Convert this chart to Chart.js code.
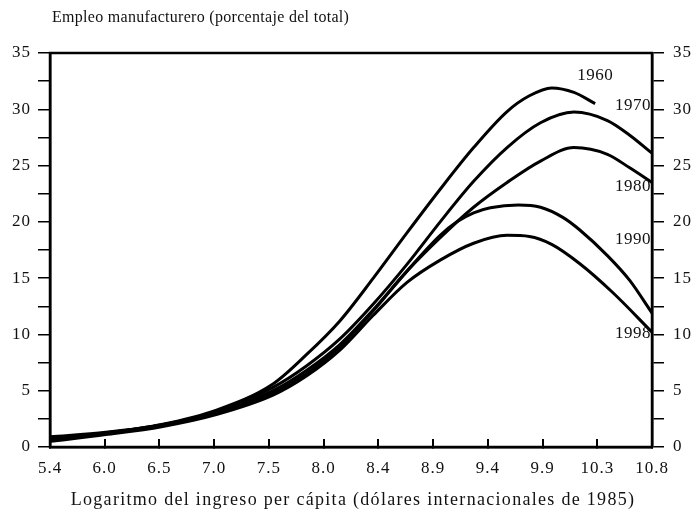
<!DOCTYPE html>
<html>
<head>
<meta charset="utf-8">
<script src="https://cdn.jsdelivr.net/npm/chart.js@4"></script>
<style>
html,body{margin:0;padding:0;background:#fff;}
#wrap{position:relative;width:697px;height:526px;}
</style>
</head>
<body>
<div id="wrap"><canvas id="c" width="697" height="526"></canvas></div>
<script>
// ---- data ----
const xTickLabels = ['5.4','6.0','6.5','7.0','7.5','8.0','8.4','8.9','9.4','9.9','10.3','10.8'];
const yMin = 0, yMax = 35, yStep = 2.5;

const seriesNames = ['1960','1970','1980','1990','1998'];

const x1960 = [5.4,5.9,6.4,6.9,7.4,7.7,8.0,8.3,8.6,8.9,9.2,9.5,9.7,9.9,10.1,10.29];
const y1960 = [0.7,1.25,2.0,3.3,5.6,8.2,11.2,15.0,19.0,22.9,26.6,29.8,31.2,31.9,31.5,30.5];

const x1970 = [5.4,5.9,6.4,6.9,7.4,7.7,8.0,8.3,8.6,8.9,9.2,9.5,9.8,10.1,10.4,10.6,10.8];
const y1970 = [0.8,1.25,1.95,3.2,5.3,7.2,9.6,12.7,16.2,20.0,23.6,26.6,28.8,29.75,29.0,27.7,26.1];

const x1980 = [5.4,5.9,6.4,6.9,7.4,7.7,8.0,8.3,8.6,8.9,9.2,9.5,9.8,10.1,10.4,10.6,10.8];
const y1980 = [0.9,1.3,1.95,3.1,5.0,6.8,9.1,12.2,15.6,18.6,21.3,23.5,25.4,26.6,26.0,24.8,23.5];

const x1990 = [5.4,5.9,6.4,6.9,7.4,7.7,8.0,8.3,8.6,8.9,9.05,9.2,9.35,9.6,9.8,10.0,10.15,10.4,10.6,10.8];
const y1990 = [0.6,1.2,1.9,3.0,4.8,6.5,8.9,12.1,15.6,18.8,20.0,20.8,21.25,21.5,21.3,20.4,19.3,17.0,14.8,11.9];

const x1998 = [5.4,5.9,6.4,6.9,7.4,7.7,8.0,8.3,8.6,8.9,9.2,9.5,9.7,9.9,10.15,10.45,10.8];
const y1998 = [0.5,1.1,1.8,2.9,4.6,6.3,8.6,11.7,14.6,16.6,18.1,18.8,18.7,18.0,16.3,13.7,10.2];

const yTitle = 'Empleo manufacturero (porcentaje del total)';
const xTitle = 'Logaritmo del ingreso per cápita (dólares internacionales de 1985)';

// ---- build ----
const xs = [x1960,x1970,x1980,x1990,x1998];
const ys = [y1960,y1970,y1980,y1990,y1998];
const xMin = 5.4, xMax = 10.8;
const xStepVal = (xMax - xMin) / (xTickLabels.length - 1);

const datasets = seriesNames.map((n, i) => ({
  label: n,
  data: xs[i].map((x, k) => ({x: x, y: ys[i][k]})),
  borderColor: '#000',
  borderWidth: 3,
  pointRadius: 0,
  fill: false,
  cubicInterpolationMode: 'monotone',
  xAxisID: 'x',
  yAxisID: 'y'
}));

// label anchors (data units)
const labelPlacement = {
  '1960': {x: 10.29, y: 33.0, align: 'center'},
  '1970': {x: 10.79, y: 30.3, align: 'right'},
  '1980': {x: 10.79, y: 23.1, align: 'right'},
  '1990': {x: 10.79, y: 18.4, align: 'right'},
  '1998': {x: 10.79, y: 10.1, align: 'right'}
};

const SERIF = '"Liberation Serif", "DejaVu Serif", serif';

const textPlugin = {
  id: 'textPlugin',
  beforeDraw(chart) {
    chart.ctx.letterSpacing = '1px';
  },
  afterDraw(chart) {
    const ctx = chart.ctx, ca = chart.chartArea;
    const xs_ = chart.scales.x, ys_ = chart.scales.y;
    ctx.save();
    // frame
    ctx.strokeStyle = '#000';
    ctx.lineWidth = 2.5;
    ctx.strokeRect(ca.left, ca.top, ca.right - ca.left, ca.bottom - ca.top);
    // series labels
    ctx.fillStyle = '#111';
    ctx.letterSpacing = '0.5px';
    ctx.font = '17px ' + SERIF;
    ctx.textBaseline = 'middle';
    seriesNames.forEach(n => {
      const p = labelPlacement[n];
      ctx.textAlign = p.align;
      ctx.fillText(n, xs_.getPixelForValue(p.x), ys_.getPixelForValue(p.y));
    });
    // axis titles
    ctx.letterSpacing = '0.3px';
    ctx.font = '16px ' + SERIF;
    ctx.textAlign = 'left';
    ctx.fillText(yTitle, ca.left + 2, 18);
    ctx.letterSpacing = '1.3px';
    ctx.font = '18px ' + SERIF;
    ctx.textAlign = 'center';
    ctx.fillText(xTitle, (ca.left + ca.right) / 2 + 2, 500);
    ctx.restore();
  }
};

const yTickCb = v => (Math.abs(v % 5) < 1e-6 ? String(v) : '');
const tickFont = {family: SERIF, size: 17};

new Chart(document.getElementById('c'), {
  type: 'line',
  data: {datasets},
  plugins: [textPlugin],
  options: {
    responsive: false,
    animation: false,
    events: [],
    layout: {padding: {top: 53, left: 0, right: 0, bottom: 0}},
    plugins: {legend: {display: false}, tooltip: {enabled: false}, title: {display: false}},
    scales: {
      x: {
        type: 'linear',
        position: 'bottom',
        min: xMin, max: xMax,
        afterBuildTicks(scale) {
          scale.ticks = xTickLabels.map((_, i) => ({value: xMin + i * xStepVal}));
        },
        afterFit(scale) { scale.height = 79; },
        ticks: {
          callback: (v, i) => xTickLabels[i],
          color: '#111',
          font: tickFont,
          padding: 19,
          maxRotation: 0,
          autoSkip: false
        },
        grid: {drawOnChartArea: false, drawTicks: true, tickLength: -8, color: '#000', lineWidth: 2},
        border: {display: true, color: '#000', width: 2.5}
      },
      y: {
        type: 'linear',
        position: 'left',
        min: yMin, max: yMax,
        ticks: {stepSize: yStep, callback: yTickCb, color: '#111', font: tickFont, padding: 7, autoSkip: false},
        afterFit(scale) { scale.width = 50; },
        grid: {drawOnChartArea: false, drawTicks: true, tickLength: 12, color: '#000', lineWidth: 1.5},
        border: {display: true, color: '#000', width: 2.5}
      },
      y2: {
        type: 'linear',
        position: 'right',
        min: yMin, max: yMax,
        ticks: {stepSize: yStep, callback: yTickCb, color: '#111', font: tickFont, padding: 9, autoSkip: false},
        afterFit(scale) { scale.width = 45; },
        grid: {drawOnChartArea: false, drawTicks: true, tickLength: 12, color: '#000', lineWidth: 1.5},
        border: {display: true, color: '#000', width: 2.5}
      }
    }
  }
});
</script>
</body>
</html>
